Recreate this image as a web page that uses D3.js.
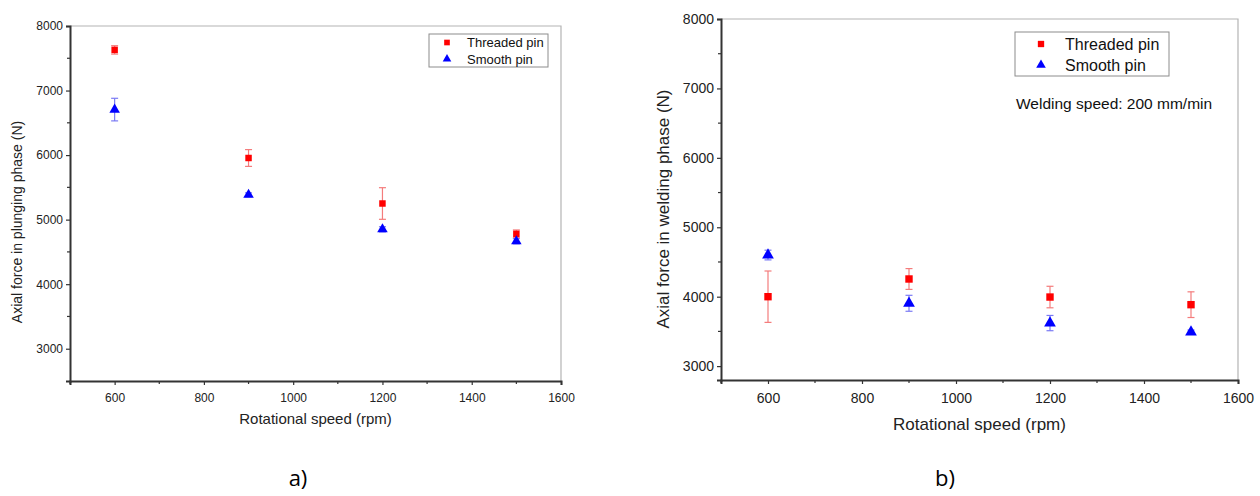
<!DOCTYPE html>
<html>
<head>
<meta charset="utf-8">
<script src="https://cdn.jsdelivr.net/npm/d3@7"></script>
<style>
  body { margin: 0; background: #fff; }
  svg { display: block; font-family: "Liberation Sans", Arial, sans-serif; }
</style>
</head>
<body>
<svg id="chart" width="1260" height="496"></svg>
<script>
"use strict"

//
// data
//
var speeds = [600, 900, 1200, 1500];
var xTicks = [600, 800, 1000, 1200, 1400, 1600];
var xMinor = [500, 700, 900, 1100, 1300, 1500];
var yTicks = [3000, 4000, 5000, 6000, 7000, 8000];
var yMinor = [3500, 4500, 5500, 6500, 7500];
var seriesNames = ["Threaded pin", "Smooth pin"];

// a) plunging phase
var plungeThreaded    = [7630, 5955, 5250, 4780];
var plungeThreadedErr = [  65,  130,  245,   60];
var plungeSmooth      = [6705, 5385, 4850, 4665];
var plungeSmoothErr   = [ 175,   30,   40,   40];

// b) welding phase
var weldThreaded    = [4000, 4255, 3995, 3885];
var weldThreadedErr = [ 370,  150,  155,  185];
var weldSmooth      = [4600, 3905, 3620, 3490];
var weldSmoothErr   = [  70,  115,  110,   30];

var svg = d3.select("#chart");

//
// one panel
//
function drawPanel(p) {
	var x = d3.scaleLinear().domain([500, 1600]).range([p.left, p.right]);
	var y = d3.scaleLinear().domain([p.yMin, 8000]).range([p.bottom, p.top]);
	var g = svg.append("g");

	// light frame top / right
	g.append("path")
		.attr("d", "M" + p.left + "," + p.top + "H" + p.right + "V" + p.bottom)
		.attr("fill", "none").attr("stroke", "#b4b4b4").attr("stroke-width", 1.2);

	// minor ticks
	g.selectAll(".mx").data(xMinor).enter().append("line")
		.attr("x1", function(d) { return x(d); }).attr("x2", function(d) { return x(d); })
		.attr("y1", p.bottom).attr("y2", p.bottom + 3)
		.attr("stroke", "#333").attr("stroke-width", 1.2);
	g.selectAll(".my").data(yMinor).enter().append("line")
		.attr("y1", function(d) { return y(d); }).attr("y2", function(d) { return y(d); })
		.attr("x1", p.left).attr("x2", p.left - 3)
		.attr("stroke", "#333").attr("stroke-width", 1.2);

	var xAxis = g.append("g")
		.attr("transform", "translate(0," + p.bottom + ")")
		.call(d3.axisBottom(x).tickValues(xTicks).tickSize(4).tickPadding(p.xPad).tickFormat(d3.format("d")));
	var yAxis = g.append("g")
		.attr("transform", "translate(" + p.left + ",0)")
		.call(d3.axisLeft(y).tickValues(yTicks).tickSize(4).tickPadding(3).tickFormat(d3.format("d")));
	[xAxis, yAxis].forEach(function(a) {
		a.select(".domain").attr("stroke", "#333").attr("stroke-width", 2);
		a.selectAll(".tick line").attr("stroke", "#333").attr("stroke-width", 1.2);
		a.selectAll(".tick text").attr("fill", "#222").style("font-size", p.tickFont + "px")
			.style("font-family", "'Liberation Sans', Arial, sans-serif");
	});

	// axis titles
	g.append("text")
		.attr("x", (p.left + p.right) / 2).attr("y", p.xTitleY)
		.attr("text-anchor", "middle").attr("fill", "#222")
		.style("font-size", p.xTitleFont + "px")
		.text("Rotational speed (rpm)");
	g.append("text")
		.attr("transform", "translate(" + p.yTitleX + "," + p.yTitleY + ") rotate(-90)")
		.attr("text-anchor", "middle").attr("fill", "#222")
		.style("font-size", p.yTitleFont + "px")
		.text(p.yTitle);

	// series
	var series = [
		{vals: p.threaded, err: p.threadedErr, color: "#ff0000", errColor: "#f47c7c", shape: d3.symbolSquare, size: p.sqSize},
		{vals: p.smooth,   err: p.smoothErr,   color: "#0000ff", errColor: "#7b7bf4", shape: d3.symbolTriangle, size: p.triSize}
	];
	series.forEach(function(s) {
		var pts = speeds.map(function(sp, i) { return {x: sp, v: s.vals[i], e: s.err[i]}; });
		var eb = g.append("g").attr("stroke", s.errColor).attr("stroke-width", 1.2).attr("fill", "none");
		pts.forEach(function(d) {
			var cx = x(d.x), y0 = y(d.v - d.e), y1 = y(d.v + d.e);
			eb.append("line").attr("x1", cx).attr("x2", cx).attr("y1", y0).attr("y2", y1);
			eb.append("line").attr("x1", cx - 3.5).attr("x2", cx + 3.5).attr("y1", y0).attr("y2", y0);
			eb.append("line").attr("x1", cx - 3.5).attr("x2", cx + 3.5).attr("y1", y1).attr("y2", y1);
		});
		g.selectAll(null).data(pts).enter().append("path")
			.attr("d", d3.symbol().type(s.shape).size(s.size))
			.attr("transform", function(d) { return "translate(" + x(d.x) + "," + y(d.v) + ")"; })
			.attr("fill", s.color);
	});

	// legend
	var L = p.legend;
	g.append("rect")
		.attr("x", L.x).attr("y", L.y).attr("width", L.w).attr("height", L.h)
		.attr("fill", "#fff").attr("stroke", "#8c8c8c").attr("stroke-width", 1);
	seriesNames.forEach(function(name, i) {
		var ly = L.y + L.row0 + i * L.rowH;
		g.append("path")
			.attr("d", d3.symbol().type(series[i].shape).size(L.sym))
			.attr("transform", "translate(" + (L.x + L.symX) + "," + ly + ")")
			.attr("fill", series[i].color);
		g.append("text")
			.attr("x", L.x + L.textX).attr("y", ly).attr("dy", "0.36em")
			.attr("fill", "#111").style("font-size", L.font + "px")
			.text(name);
	});

	// panel label
	g.append("text")
		.attr("x", p.labelX).attr("y", 486)
		.attr("text-anchor", "middle").attr("fill", "#000")
		.style("font-family", "'Open Sans', 'DejaVu Sans', sans-serif")
		.style("font-size", "22px")
		.text(p.label);

	return g;
}

drawPanel({
	left: 70, right: 561, top: 26, bottom: 381, yMin: 2500,
	threaded: plungeThreaded, threadedErr: plungeThreadedErr,
	smooth: plungeSmooth, smoothErr: plungeSmoothErr,
	tickFont: 12, xTitleFont: 15, yTitleFont: 14, xPad: 8,
	xTitleY: 424, yTitleX: 22, yTitleY: 222,
	yTitle: "Axial force in plunging phase (N)",
	sqSize: 42, triSize: 48,
	legend: {x: 429, y: 34, w: 119, h: 33, row0: 8.5, rowH: 16.5, symX: 18, textX: 38, sym: 32, font: 13},
	label: "a)", labelX: 298
});

var gb = drawPanel({
	left: 721, right: 1238, top: 19, bottom: 380, yMin: 2800,
	threaded: weldThreaded, threadedErr: weldThreadedErr,
	smooth: weldSmooth, smoothErr: weldSmoothErr,
	tickFont: 14, xTitleFont: 17, yTitleFont: 17, xPad: 9,
	xTitleY: 430, yTitleX: 669, yTitleY: 209,
	yTitle: "Axial force in welding phase (N)",
	sqSize: 55, triSize: 60,
	legend: {x: 1015, y: 32, w: 154, h: 44, row0: 12, rowH: 21, symX: 26, textX: 50, sym: 40, font: 16},
	label: "b)", labelX: 945
});

gb.append("text")
	.attr("x", 1016).attr("y", 109)
	.attr("fill", "#111").style("font-size", "15.5px")
	.text("Welding speed: 200 mm/min");
</script>
</body>
</html>
